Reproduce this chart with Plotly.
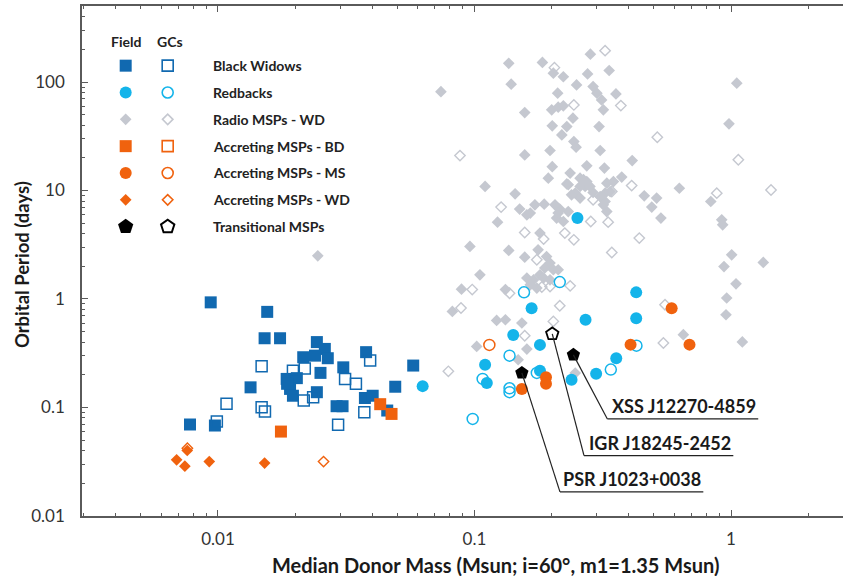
import math
import plotly.graph_objects as go

# ---------------- data (median donor mass [Msun], orbital period [days]) ----------------
bw_field_mass = [0.00937, 0.01556, 0.0152, 0.01746, 0.0243, 0.0261, 0.0215, 0.0239, 0.0268, 0.0378,
                 0.0308, 0.0577, 0.0251, 0.01853, 0.0203, 0.0191, 0.0196, 0.0243, 0.0134, 0.0491,
                 0.0374, 0.0401, 0.029, 0.0306, 0.0457, 0.00778, 0.00973, 0.0186]
bw_field_porb = [0.93, 0.76, 0.434, 0.434, 0.40, 0.346, 0.29, 0.30, 0.284, 0.323,
                 0.234, 0.243, 0.208, 0.183, 0.186, 0.148, 0.128, 0.138, 0.153, 0.155,
                 0.122, 0.128, 0.1025, 0.1025, 0.0935, 0.0695, 0.068, 0.165]

bw_gc_mass = [0.0148, 0.0196, 0.0218, 0.0392, 0.0313, 0.0345, 0.0216, 0.0235, 0.0108, 0.0148,
              0.01525, 0.0099, 0.0372, 0.0294]
bw_gc_porb = [0.239, 0.218, 0.228, 0.27, 0.183, 0.165, 0.1155, 0.124, 0.1077, 0.1005,
              0.0915, 0.074, 0.090, 0.069]

rb_field_mass = [0.427, 0.427, 0.271, 0.167, 0.1416, 0.180, 0.110, 0.1117, 0.180, 0.239,
                 0.298, 0.357, 0.0628, 0.252]
rb_field_porb = [1.15, 0.664, 0.644, 0.82, 0.466, 0.377, 0.247, 0.168, 0.218, 0.180,
                 0.204, 0.284, 0.157, 5.58]

rb_gc_mass = [0.215, 0.156, 0.137, 0.1076, 0.137, 0.137, 0.175, 0.340, 0.428, 0.0984]
rb_gc_porb = [1.43, 1.15, 0.30, 0.183, 0.150, 0.138, 0.208, 0.223, 0.371, 0.0783]

wd_field_mass = [0.074, 0.136, 0.184, 0.139, 0.157, 0.157, 0.110, 0.283, 0.335, 0.276,
                 0.203, 0.222, 0.250, 0.290, 0.300, 0.313, 0.318, 0.356, 0.211, 0.200,
                 0.212, 0.222, 0.242, 0.201, 0.229, 0.219, 0.306, 0.244, 0.249, 0.197,
                 0.309, 0.201, 0.274, 0.321, 0.236, 0.194, 0.258, 0.274, 0.270, 0.229,
                 0.328, 0.348, 1.053, 0.982, 0.412, 0.375, 0.629, 0.459, 0.513, 0.323,
                 0.491, 0.533, 0.834, 0.920, 0.928, 1.006, 0.939, 1.336, 1.046, 0.962,
                 0.956, 0.652, 1.107, 0.144, 0.150, 0.160, 0.172, 0.187, 0.123, 0.206,
                 0.215, 0.209, 0.222, 0.247, 0.258, 0.266, 0.290, 0.323, 0.328, 0.180,
                 0.165, 0.212, 0.232, 0.239, 0.232, 0.258, 0.282, 0.309, 0.338, 0.318,
                 0.136, 0.157, 0.177, 0.191, 0.197, 0.203, 0.188, 0.180, 0.170, 0.160,
                 0.165, 0.186, 0.197, 0.212, 0.175, 0.132, 0.153, 0.096, 0.105, 0.089,
                 0.082, 0.122, 0.132, 0.102, 0.160, 0.148, 0.247, 0.0245]
wd_field_porb = [81.7, 149, 152, 95.7, 52.4, 21.3, 10.9, 181, 128, 119,
                 121, 112, 94.2, 90.9, 79, 68.5, 55.5, 77.8, 79, 55.5,
                 58.7, 60.4, 46.5, 39.5, 38.9, 32.6, 38.9, 28.3, 25.1, 23.4,
                 23.4, 16.6, 16.9, 16.1, 14.5, 13.0, 13.0, 12.1, 10.9, 11.5,
                 11.7, 12.1, 97.7, 41.2, 18.9, 13.3, 10.5, 8.93, 8.51, 9.46,
                 7.03, 5.57, 7.92, 5.37, 4.83, 2.55, 1.99, 2.17, 1.38, 1.02,
                 0.715, 0.468, 0.401, 9.33, 6.74, 5.97, 7.38, 7.49, 5.11, 7.38,
                 6.74, 5.57, 5.18, 9.46, 8.51, 12.6, 9.59, 7.92, 6.40, 4.05,
                 6.19, 6.19, 6.40, 9.13, 11.3, 10.9, 10.9, 8.81, 9.79, 7.38,
                 2.80, 2.43, 2.84, 2.46, 2.14, 1.86, 1.93, 1.67, 1.50, 1.56,
                 1.35, 1.56, 1.50, 1.86, 1.26, 1.22, 0.60, 3.05, 1.67, 1.23,
                 0.767, 0.634, 0.643, 0.365, 0.345, 0.275, 0.207, 2.50]

wd_gc_mass = [0.323, 0.205, 0.244, 0.372, 0.516, 0.0878, 1.068, 0.410, 0.880, 1.432,
              0.343, 0.127, 0.290, 0.284, 0.332, 0.157, 0.225, 0.439, 0.343, 0.186,
              0.244, 0.175, 0.137, 0.197, 0.183, 0.236, 0.215, 0.203, 0.553, 0.098,
              0.0886, 0.0791, 0.157, 0.545]
wd_gc_porb = [195, 136, 61.6, 60.7, 31.0, 21.0, 19.2, 11.1, 9.46, 10.1,
              9.79, 7.03, 8.21, 5.18, 5.11, 4.10, 4.05, 3.64, 2.68, 3.57,
              3.51, 2.30, 1.13, 1.30, 1.29, 1.32, 0.865, 0.621, 0.885, 1.22,
              0.824, 0.215, 0.458, 0.392]

acc_bd_field_mass = [0.0176, 0.0429, 0.0475]
acc_bd_field_porb = [0.0598, 0.107, 0.087]

acc_ms_field_mass = [0.587, 0.689, 0.406, 0.19, 0.19, 0.153]
acc_ms_field_porb = [0.82, 0.379, 0.379, 0.19, 0.165, 0.148]
acc_ms_gc_mass = [0.1143]
acc_ms_gc_porb = [0.377]

acc_wd_field_mass = [0.00759, 0.0069, 0.00743, 0.00925, 0.0152]
acc_wd_field_porb = [0.040, 0.0328, 0.0287, 0.0316, 0.0306]
acc_wd_gc_mass = [0.0076, 0.0258]
acc_wd_gc_porb = [0.042, 0.0316]

tmsp_field_names = ["PSR J1023+0038", "XSS J12270-4859"]
tmsp_field_mass = [0.153, 0.243]
tmsp_field_porb = [0.208, 0.305]
tmsp_gc_names = ["IGR J18245-2452"]
tmsp_gc_mass = [0.201]
tmsp_gc_porb = [0.476]

# label leader lines: source point, elbow, end of underline
label_names = ["PSR J1023+0038", "IGR J18245-2452", "XSS J12270-4859"]
label_src_mass = [0.153, 0.201, 0.243]
label_src_porb = [0.208, 0.476, 0.305]
label_elbow_mass = [0.2154, 0.2673, 0.3296]
label_elbow_porb = [0.0166, 0.0359, 0.0782]
label_end_mass = [0.780, 1.021, 1.277]

x_tick_vals = [0.01, 0.1, 1]
x_tick_text = ["0.01", "0.1", "1"]
y_tick_vals = [0.01, 0.1, 1, 10, 100]
y_tick_text = ["0.01", "0.1", "1", "10", "100"]

legend_labels = ["Black Widows", "Redbacks", "Radio MSPs - WD", "Accreting MSPs - BD",
                 "Accreting MSPs - MS", "Accreting MSPs - WD", "Transitional MSPs"]

# ---------------- style ----------------
BLUE = "#1169b0"
CYAN = "#14b4ea"
GREY = "#c5c8d0"
ORANGE = "#f0620e"
BLACK = "#000000"
AXC = "#5a5a5a"
FONT = "Lato"

fig = go.Figure()


def add(xs, ys, symbol, color, size, open_=False, fill=None, lw=1.6):
    if open_:
        marker = dict(symbol=symbol, size=size, color=fill if fill else "rgba(0,0,0,0)",
                      line=dict(color=color, width=lw))
    else:
        marker = dict(symbol=symbol, size=size, color=color, line=dict(width=0))
    fig.add_trace(go.Scatter(x=xs, y=ys, mode="markers", marker=marker,
                             showlegend=False, hoverinfo="skip"))


add(wd_field_mass, wd_field_porb, "diamond", GREY, 9)
add(wd_gc_mass, wd_gc_porb, "diamond", GREY, 8, open_=True, lw=1.4)
add(bw_field_mass, bw_field_porb, "square", BLUE, 12)
add(bw_gc_mass, bw_gc_porb, "square", BLUE, 11, open_=True, lw=1.5)
add(rb_field_mass, rb_field_porb, "circle", CYAN, 12)
add(rb_gc_mass, rb_gc_porb, "circle", CYAN, 11, open_=True, lw=1.5)
add(acc_bd_field_mass, acc_bd_field_porb, "square", ORANGE, 12)
add(acc_ms_field_mass, acc_ms_field_porb, "circle", ORANGE, 12)
add(acc_ms_gc_mass, acc_ms_gc_porb, "circle", ORANGE, 11, open_=True, lw=1.5)
add(acc_wd_field_mass, acc_wd_field_porb, "diamond", ORANGE, 9)
add(acc_wd_gc_mass, acc_wd_gc_porb, "diamond", ORANGE, 8, open_=True, lw=1.4)

# leader lines for transitional MSP labels
shapes = []
for i in range(len(label_names)):
    shapes.append(dict(type="line", xref="x", yref="y", layer="above",
                       x0=label_src_mass[i], y0=label_src_porb[i],
                       x1=label_elbow_mass[i], y1=label_elbow_porb[i],
                       line=dict(color="#222222", width=1.2)))
    shapes.append(dict(type="line", xref="x", yref="y", layer="above",
                       x0=label_elbow_mass[i], y0=label_elbow_porb[i],
                       x1=label_end_mass[i], y1=label_elbow_porb[i],
                       line=dict(color="#222222", width=1.2)))

add(tmsp_field_mass, tmsp_field_porb, "pentagon", BLACK, 14)
add(tmsp_gc_mass, tmsp_gc_porb, "pentagon", BLACK, 13, open_=True, fill="white", lw=1.8)

annotations = []
for i in range(len(label_names)):
    annotations.append(dict(x=math.log10(label_end_mass[i]), y=math.log10(label_elbow_porb[i]),
                            xref="x", yref="y", text=label_names[i], showarrow=False,
                            xanchor="right", yanchor="bottom", yshift=0,
                            font=dict(family=FONT, size=18, color="#1a1a1a", weight="bold")))

# ---------------- custom legend (auxiliary 0-1 axes over the plot area) ----------------
n_rows = len(legend_labels)
row_y = [0.883 - i * 0.0526 for i in range(n_rows)]
col_field = 0.0574
col_gc = 0.1126
col_text = 0.1695
leg_styles = [
    ("square", BLUE, 12, 12), ("circle", CYAN, 12, 12), ("diamond", GREY, 9, 9),
    ("square", ORANGE, 12, 12), ("circle", ORANGE, 12, 12), ("diamond", ORANGE, 9, 9),
    ("pentagon", BLACK, 16, 15),
]
for i, (sym, col, sf, sg) in enumerate(leg_styles):
    fig.add_trace(go.Scatter(x=[col_field], y=[row_y[i]], xaxis="x2", yaxis="y2", mode="markers",
                             marker=dict(symbol=sym, size=sf, color=col, line=dict(width=0)),
                             showlegend=False, hoverinfo="skip"))
    fig.add_trace(go.Scatter(x=[col_gc], y=[row_y[i]], xaxis="x2", yaxis="y2", mode="markers",
                             marker=dict(symbol=sym, size=sg - 1, color="white" if sym == "pentagon" else "rgba(0,0,0,0)",
                                         line=dict(color=col, width=1.6 if sym != "pentagon" else 2)),
                             showlegend=False, hoverinfo="skip"))
    annotations.append(dict(x=col_text, y=row_y[i], xref="paper", yref="paper", text=legend_labels[i],
                            showarrow=False, xanchor="left", yanchor="middle",
                            font=dict(family=FONT, size=14, color="#222222", weight="bold")))

annotations.append(dict(x=col_field + 0.001, y=0.930, xref="paper", yref="paper", text="Field",
                        showarrow=False, xanchor="center", yanchor="middle",
                        font=dict(family=FONT, size=14, color="#222222", weight="bold")))
annotations.append(dict(x=col_gc + 0.003, y=0.930, xref="paper", yref="paper", text="GCs",
                        showarrow=False, xanchor="center", yanchor="middle",
                        font=dict(family=FONT, size=14, color="#222222", weight="bold")))

# axis titles
annotations.append(dict(x=0.5436, y=-0.096, xref="paper", yref="paper",
                        text="Median Donor Mass (Msun; i=60°, m1=1.35 Msun)", showarrow=False,
                        xanchor="center", yanchor="middle",
                        font=dict(family=FONT, size=20, color="#1a1a1a", weight="bold")))
annotations.append(dict(x=-0.0788, y=0.492, xref="paper", yref="paper",
                        text="Orbital Period (days)", showarrow=False, textangle=-90,
                        xanchor="center", yanchor="middle",
                        font=dict(family=FONT, size=18.5, color="#1a1a1a", weight="bold")))

x_minor = [m * 10 ** e for e in range(-3, 1) for m in range(2, 10)]
y_minor = [m * 10 ** e for e in range(-2, 3) for m in range(2, 10)]

fig.update_layout(
    width=843, height=576,
    margin=dict(l=82, r=0, t=6, b=60),
    paper_bgcolor="white", plot_bgcolor="white",
    font=dict(family=FONT, color="#333333"),
    showlegend=False,
    shapes=shapes,
    annotations=annotations,
    xaxis=dict(type="log", range=[-2.530, 0.4366], tickmode="array", tickvals=x_tick_vals,
               ticktext=x_tick_text, ticks="inside", ticklen=6, tickwidth=1.2, tickcolor=AXC,
               showline=True, linecolor=AXC, linewidth=1.5, mirror="ticks", showgrid=False,
               zeroline=False, ticklabelstandoff=7,
               tickfont=dict(family=FONT, size=17, color="#333333"),
               minor=dict(tickmode="array", tickvals=x_minor, ticks="inside", ticklen=3,
                          tickwidth=1, tickcolor=AXC, showgrid=False)),
    yaxis=dict(type="log", range=[-2.002, 2.702], tickmode="array", tickvals=y_tick_vals,
               ticktext=y_tick_text, ticks="inside", ticklen=6, tickwidth=1.2, tickcolor=AXC,
               showline=True, linecolor=AXC, linewidth=1.5, mirror=False, showgrid=False,
               zeroline=False, ticklabelstandoff=12,
               tickfont=dict(family=FONT, size=17, color="#333333"),
               minor=dict(tickmode="array", tickvals=y_minor, ticks="inside", ticklen=3,
                          tickwidth=1, tickcolor=AXC, showgrid=False)),
    xaxis2=dict(range=[0, 1], overlaying="x", anchor="y2", visible=False, fixedrange=True),
    yaxis2=dict(range=[0, 1], overlaying="y", anchor="x2", visible=False, fixedrange=True),
)

fig.write_html("out.html", config={"displayModeBar": False},
               post_script="document.body.style.margin='0';")
